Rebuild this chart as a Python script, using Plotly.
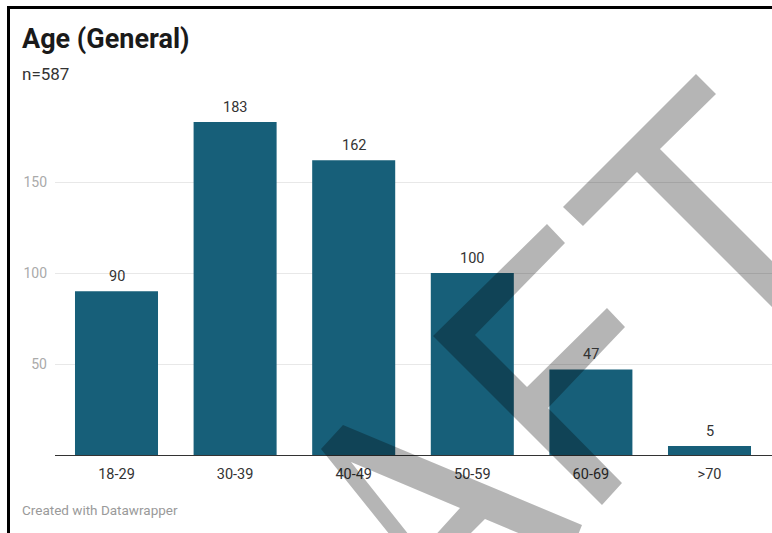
import plotly.graph_objects as go

# Survey respondents by age bracket
categories = ["18-29", "30-39", "40-49", "50-59", "60-69", ">70"]
counts = [90, 183, 162, 100, 47, 5]
y_ticks = [50, 100, 150]

title_text = "Age (General)"
subtitle_text = "n=587"
footer_text = "Created with Datawrapper"

W, H = 772, 533
M_L, M_R, M_T, M_B = 55, 0, 91, 78
PLOT_W = W - M_L - M_R
PLOT_H = H - M_T - M_B

BAR_COLOR = "#175f79"
FONT = "Roboto, 'Open Sans', sans-serif"


def paper(x, y):
    """Pixel position on the page -> paper coordinates."""
    return (x - M_L) / PLOT_W, (H - M_B - y) / PLOT_H


def poly_path(points):
    pts = [paper(x, y) for x, y in points]
    return "M " + " L ".join(f"{a:.5f},{b:.5f}" for a, b in pts) + " Z"


fig = go.Figure(
    go.Bar(
        x=categories,
        y=counts,
        marker=dict(color=BAR_COLOR, line=dict(width=0)),
        hoverinfo="x+y",
    )
)

# value labels above each bar
annotations = [
    dict(
        x=c, y=v, xref="x", yref="y", text=str(v), showarrow=False,
        yanchor="bottom", yshift=4,
        font=dict(family=FONT, size=14.5, color="#333333"),
    )
    for c, v in zip(categories, counts)
]


def page_text(x, y, text, size, color, bold=False):
    px_, py_ = paper(x, y)
    return dict(
        x=px_, y=py_, xref="paper", yref="paper", text=f"<b>{text}</b>" if bold else text,
        showarrow=False, xanchor="left", yanchor="middle",
        font=dict(family=FONT, size=size, color=color),
    )


annotations += [
    page_text(20, 39, title_text, 27, "#1a1a1a", bold=True),
    page_text(20, 74, subtitle_text, 17, "#333333"),
    page_text(20, 510, footer_text, 13.5, "#9a9a9a"),
]

shapes = []

# page frame (top and left edges)
for x0, y0, x1, y1 in [(7, 6, 772, 9), (7, 6, 10, 533)]:
    a0, b0 = paper(x0, y0)
    a1, b1 = paper(x1, y1)
    shapes.append(dict(type="rect", xref="paper", yref="paper", x0=a0, y0=b0, x1=a1, y1=b1,
                       fillcolor="#000000", line=dict(width=0), layer="above"))

# diagonal "DRAFT" watermark letters (A, F, T)
wm_A = [(321, 449), (343, 425), (582, 525), (576, 540), (535, 540), (485, 519),
        (464, 540), (431, 540), (460, 508), (351, 462), (413, 540), (394, 540)]
wm_F = [(433, 336), (547, 224), (565, 243), (475, 335), (527, 387), (607, 308),
        (625, 327), (548, 408), (622, 483), (602, 505)]
wm_T = [(563, 207), (696, 74), (716, 94), (660, 149), (820, 309), (820, 355),
        (637, 172), (583, 226)]
for letter in (wm_A, wm_F, wm_T):
    shapes.append(dict(type="path", xref="paper", yref="paper", path=poly_path(letter),
                       fillcolor="rgba(0,0,0,0.29)", line=dict(width=0), layer="above"))

# category axis spans the full plot width; one slot = 118.6 px
slot = 118.6
x_lo = -(116.5 - M_L) / slot
x_hi = x_lo + PLOT_W / slot

fig.update_layout(
    width=W, height=H,
    margin=dict(l=M_L, r=M_R, t=M_T, b=M_B, pad=0),
    paper_bgcolor="white", plot_bgcolor="white",
    bargap=0.3,
    showlegend=False,
    font=dict(family=FONT),
    annotations=annotations,
    shapes=shapes,
    xaxis=dict(
        type="category", range=[x_lo, x_hi],
        showgrid=False, zeroline=False,
        showline=True, linecolor="#333333", linewidth=1,
        ticks="", ticklabelstandoff=6,
        tickfont=dict(family=FONT, size=14.5, color="#333333"),
        fixedrange=True,
    ),
    yaxis=dict(
        range=[0, 200], tickvals=y_ticks,
        showgrid=True, gridcolor="#e8e8e8", gridwidth=1,
        zeroline=False, showline=False,
        ticks="", ticklabelstandoff=7,
        tickfont=dict(family=FONT, size=14, color="#aaaaaa"),
        fixedrange=True,
    ),
)

fig.write_html("out.html", config={"displayModeBar": False})
